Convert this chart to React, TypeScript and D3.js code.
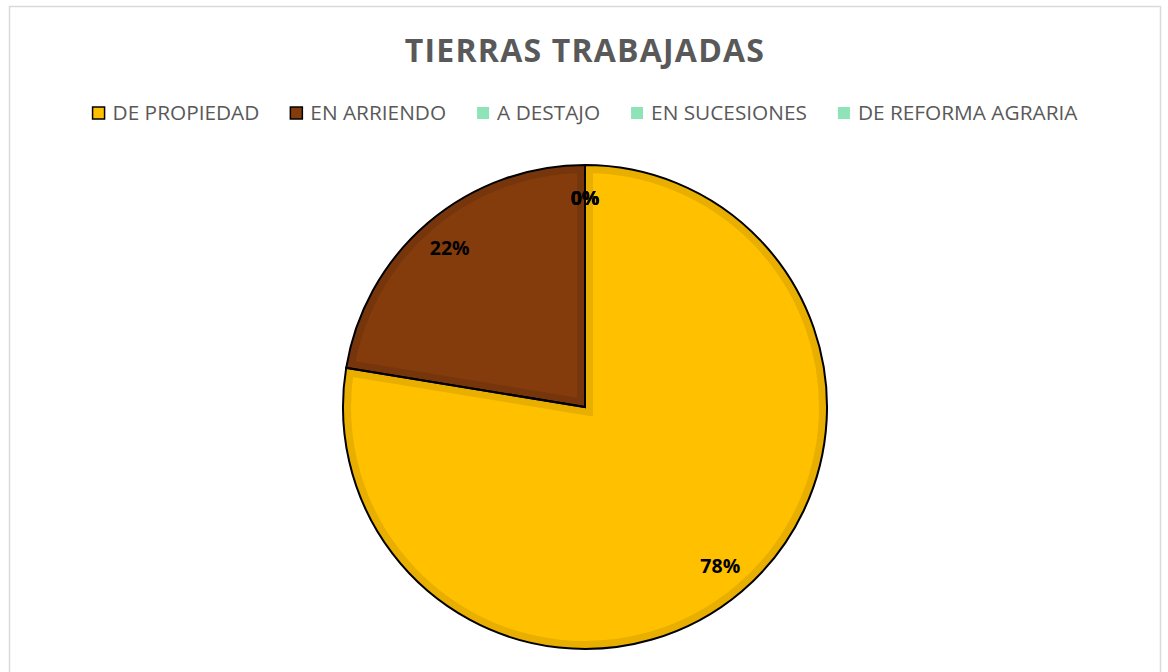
import { useEffect, useRef } from 'react';
import * as d3 from 'd3';

const title = 'TIERRAS TRABAJADAS';
const categories = ['DE PROPIEDAD', 'EN ARRIENDO', 'A DESTAJO', 'EN SUCESIONES', 'DE REFORMA AGRARIA'];
const values = [45, 13, 0, 0, 0];
const fills = ['#FFC000', '#843C0C', '#8EE4B8', '#8EE4B8', '#8EE4B8'];
const bands = ['#E8AE00', '#76350A', '#80D0A6', '#80D0A6', '#80D0A6'];

export default function App() {
  const svgRef = useRef<SVGSVGElement>(null);

  useEffect(() => {
    if (!svgRef.current) return;
    const svg = d3.select(svgRef.current);
    svg.selectAll('*').remove();

    const width = 1168;
    const cx = 585;
    const cy = 407;
    const radius = 242;

    // chart frame
    svg.append('rect')
      .attr('x', 9.5)
      .attr('y', 6.5)
      .attr('width', 1151)
      .attr('height', 700)
      .attr('fill', '#fff')
      .attr('stroke', '#d9d9d9')
      .attr('stroke-width', 1.5);

    svg.append('text')
      .attr('x', cx)
      .attr('y', 62)
      .attr('text-anchor', 'middle')
      .attr('font-family', 'Open Sans, sans-serif')
      .attr('font-weight', 700)
      .attr('font-size', 32)
      .attr('letter-spacing', 1.2)
      .attr('fill', '#595959')
      .text(title);

    // legend, laid out from measured text widths
    const legend = svg.append('g');
    const items = legend.selectAll('g').data(categories).join('g');
    items.append('rect')
      .attr('width', 12)
      .attr('height', 12)
      .attr('y', -6)
      .attr('fill', (_, i) => fills[i])
      .attr('stroke', (_, i) => (values[i] > 0 ? '#000' : 'none'))
      .attr('stroke-width', 1.5);
    const labels = items.append('text')
      .attr('x', 20)
      .attr('dy', '0.35em')
      .attr('font-family', 'Open Sans, sans-serif')
      .attr('font-size', 20.8)
      .attr('fill', '#595959')
      .text((d) => d);
    const widths: number[] = [];
    labels.each(function () {
      widths.push((this as SVGTextElement).getComputedTextLength());
    });
    const gap = 31;
    const total = d3.sum(widths, (w) => w + 20) + gap * (widths.length - 1);
    let x = (width - total) / 2 + 1;
    items.attr('transform', (_, i) => {
      const t = `translate(${x},113)`;
      x += widths[i] + 20 + gap;
      return t;
    });

    const pie = d3.pie<number>().sort(null).value((d) => d);
    const arcs = pie(values);
    const arc = d3.arc<d3.PieArcDatum<number>>().innerRadius(0).outerRadius(radius);
    const labelArc = d3.arc<d3.PieArcDatum<number>>().innerRadius(209).outerRadius(209);

    const g = svg.append('g').attr('transform', `translate(${cx},${cy})`);
    const defs = svg.append('defs');

    arcs.forEach((a, i) => {
      if (a.value <= 0) return;
      const path = arc(a) || '';
      defs.append('clipPath').attr('id', `clip-${i}`).append('path').attr('d', path);
      g.append('path').attr('d', path).attr('fill', fills[i]);
      g.append('path')
        .attr('d', path)
        .attr('fill', 'none')
        .attr('stroke', bands[i])
        .attr('stroke-width', 16)
        .attr('stroke-linejoin', 'miter')
        .attr('clip-path', `url(#clip-${i})`);
    });
    arcs.forEach((a) => {
      if (a.value <= 0) return;
      g.append('path')
        .attr('d', arc(a) || '')
        .attr('fill', 'none')
        .attr('stroke', '#000')
        .attr('stroke-width', 2)
        .attr('stroke-linejoin', 'miter');
    });

    const sum = d3.sum(values);
    g.selectAll('text.lbl')
      .data(arcs)
      .join('text')
      .attr('class', 'lbl')
      .attr('transform', (d) => `translate(${labelArc.centroid(d)})`)
      .attr('text-anchor', 'middle')
      .attr('dy', '0.35em')
      .attr('font-family', 'Open Sans, sans-serif')
      .attr('font-weight', 700)
      .attr('font-size', 19.5)
      .attr('fill', '#000')
      .text((d) => `${Math.round((d.value / sum) * 100)}%`);
  }, []);

  return (
    <svg
      ref={svgRef}
      width={1168}
      height={672}
      style={{ position: 'absolute', left: 0, top: 0 }}
    />
  );
}
